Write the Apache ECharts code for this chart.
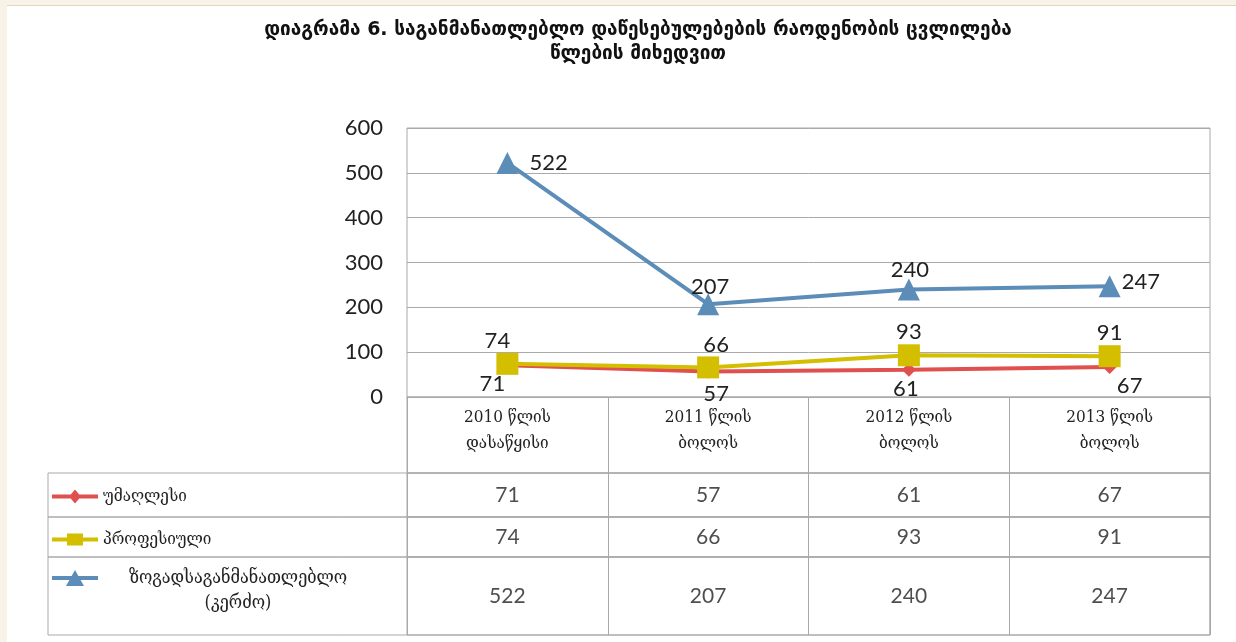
<!DOCTYPE html>
<html>
<head>
<meta charset="utf-8">
<script src="https://cdn.jsdelivr.net/npm/echarts@6/dist/echarts.min.js"></script>
<style>
html, body { margin: 0; padding: 0; background: #f7f3e8; }
#sheet { position: absolute; left: 7px; top: 5px; width: 1229px; height: 637px; background: #fff; border-top: 1px solid #e2d7bd; }
#main { position: absolute; left: 0; top: 0; width: 1236px; height: 642px; }
</style>
</head>
<body>
<div id="sheet"></div>
<div id="main"></div>
<script>
// data
var titleText = 'დიაგრამა 6. საგანმანათლებლო დაწესებულებების რაოდენობის ცვლილება\nწლების მიხედვით';
var categories = ['2010 წლის\nდასაწყისი', '2011 წლის\nბოლოს', '2012 წლის\nბოლოს', '2013 წლის\nბოლოს'];
var seriesNames = ['უმაღლესი', 'პროფესიული', 'ზოგადსაგანმანათლებლო (კერძო)'];
var higherData = [71, 57, 61, 67];
var vocationalData = [74, 66, 93, 91];
var generalData = [522, 207, 240, 247];
var yMin = 0, yMax = 600, yStep = 100;

// layout / style
var colors = ['#e0504f', '#d4be00', '#5b8db8'];
var symbols = ['diamond', 'rect', 'triangle'];
var symbolSizes = [14, 22, 22];
var txt = '#222';
var gridLine = '#a9a9a9';
var serifFont = 'DejaVu Serif Condensed, DejaVu Serif';
var rowTops = [473, 517, 557];
var rowHeights = [44, 40, 78];
var plotLeft = 407, plotWidth = 803, tableLeft = 48;

// legend keys: line with marker, as in the table
var legendIcons = [
	'path://M0 5L46 5L46 9L0 9Z M23 0L29 7L23 14L17 7Z',
	'path://M0 4L46 4L46 8L0 8Z M15 0L31 0L31 12L15 12Z',
	'path://M0 6L46 6L46 10L0 10Z M23 0L32 16L14 16Z'
];
var legendIconH = [14, 12, 16];
var legendCenters = [495, 537, 577];

var allData = [higherData, vocationalData, generalData];
// label placement per point (style only)
var labelPos = [
	['bottom', 'bottom', 'bottom', 'bottom'],
	['top', 'top', 'top', 'top'],
	['right', 'top', 'top', 'right']
];
var labelOff = [
	[[-15, 0], [8, 3], [-3, 0], [20, 0]],
	[[-10, 0], [8, 0], [0, 0], [0, 0]],
	[[10, 0], [2, 6], [1, 4], [0, -4]]
];

var grids = [
	{left: plotLeft, top: 128, width: plotWidth, height: 269, show: true, borderColor: gridLine, borderWidth: 1},
	{left: plotLeft, top: 397, width: plotWidth, height: 76, show: true, borderColor: gridLine, borderWidth: 1}
];
var xAxes = [
	{
		type: 'category', gridIndex: 0, data: categories,
		axisLine: {lineStyle: {color: gridLine}}, axisTick: {show: false},
		axisLabel: {color: txt, fontFamily: serifFont, fontSize: 17, lineHeight: 26, margin: 8}
	},
	{
		type: 'category', gridIndex: 1, data: categories,
		axisLine: {show: false}, axisTick: {show: false}, axisLabel: {show: false},
		splitLine: {show: true, lineStyle: {color: gridLine}}
	}
];
var yAxes = [
	{
		type: 'value', gridIndex: 0, min: yMin, max: yMax, interval: yStep,
		axisLine: {show: false}, axisTick: {show: false},
		axisLabel: {color: txt, fontFamily: 'Lato', fontSize: 22, margin: 24},
		splitLine: {lineStyle: {color: gridLine}}
	},
	{type: 'value', gridIndex: 1, show: false}
];

var series = [];
var legends = [];
var i, j;
for (i = 0; i < 3; i++) {
	// row box (label column + cells)
	grids.push({left: tableLeft, top: rowTops[i], width: plotLeft + plotWidth - tableLeft, height: rowHeights[i], show: true, borderColor: gridLine, borderWidth: 1});
	xAxes.push({type: 'value', gridIndex: grids.length - 1, show: false});
	yAxes.push({type: 'value', gridIndex: grids.length - 1, show: false});
}
for (i = 0; i < 3; i++) {
	// value cells
	grids.push({left: plotLeft, top: rowTops[i], width: plotWidth, height: rowHeights[i], show: true, borderColor: gridLine, borderWidth: 1});
	xAxes.push({
		type: 'category', gridIndex: grids.length - 1, data: categories,
		axisLine: {show: false}, axisTick: {show: false}, axisLabel: {show: false},
		splitLine: {show: true, lineStyle: {color: gridLine}}
	});
	yAxes.push({type: 'category', gridIndex: grids.length - 1, data: ['r'], show: false});
}

for (i = 0; i < 3; i++) {
	var pts = [];
	for (j = 0; j < allData[i].length; j++) {
		pts.push({
			value: allData[i][j],
			label: {position: labelPos[i][j], offset: labelOff[i][j]}
		});
	}
	series.push({
		name: seriesNames[i],
		type: 'line',
		xAxisIndex: 0, yAxisIndex: 0,
		data: pts,
		symbol: symbols[i],
		symbolSize: symbolSizes[i],
		showAllSymbol: true,
		lineStyle: {color: colors[i], width: 4},
		itemStyle: {color: colors[i]},
		label: {show: true, color: txt, fontFamily: 'Lato', fontSize: 22, distance: 1},
		z: 3 + i
	});
}

for (i = 0; i < 3; i++) {
	var cells = [];
	for (j = 0; j < allData[i].length; j++) cells.push([j, 0, allData[i][j]]);
	series.push({
		type: 'scatter',
		xAxisIndex: 5 + i, yAxisIndex: 5 + i,
		data: cells,
		symbolSize: 1,
		itemStyle: {color: 'rgba(0,0,0,0)'},
		silent: true,
		label: {
			show: true, position: 'inside', color: txt, fontFamily: 'Lato', fontSize: 21,
			formatter: function (p) { return p.data[2]; }
		}
	});
}

for (i = 0; i < 3; i++) {
	var lg = {
		data: [{name: seriesNames[i], icon: legendIcons[i]}],
		left: 52, top: legendCenters[i] - legendIconH[i] / 2,
		itemWidth: 46, itemHeight: legendIconH[i],
		padding: 0,
		selectedMode: false,
		itemStyle: {color: colors[i], borderWidth: 0},
		textStyle: {color: txt, fontFamily: serifFont, fontSize: 17}
	};
	if (i === 2) {
		lg.formatter = function (name) {
			var parts = name.split(' ');
			return '{c|' + parts[0] + '}\n{c|' + parts[1] + '}';
		};
		lg.textStyle.rich = {c: {width: 270, align: 'center', fontFamily: serifFont, fontSize: 18, lineHeight: 25, color: txt}};
		lg.textStyle.padding = [25, 0, 0, 0];
	}
	legends.push(lg);
}

var option = {
	animation: false,
	backgroundColor: 'transparent',
	title: {
		text: titleText,
		left: 633, top: 13, textAlign: 'center',
		textStyle: {color: '#111', fontFamily: 'DejaVu Sans', fontWeight: 'bold', fontSize: 19, lineHeight: 24}
	},
	legend: legends,
	grid: grids,
	xAxis: xAxes,
	yAxis: yAxes,
	series: series
};

var chart = echarts.init(document.getElementById('main'));
chart.setOption(option);
</script>
</body>
</html>
